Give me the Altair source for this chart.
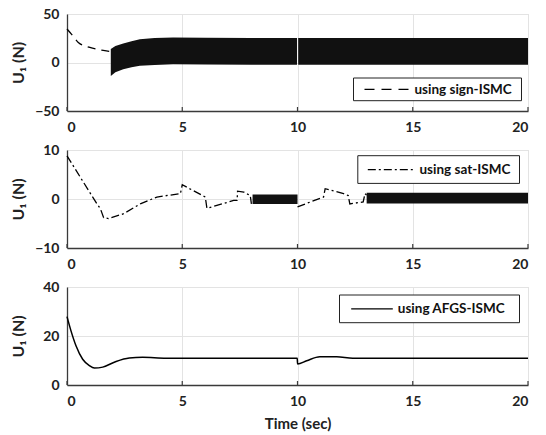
import altair as alt
import pandas as pd

FONT = "Lato"

# ---------------- data ----------------
x_ticks = [0, 5, 10, 15, 20]

# Panel 1: sign-ISMC (smooth part, then chattering envelope)
sign_t = [0.0, 0.2, 0.49, 0.99, 1.5, 1.86]
sign_u = [34.5, 29.0, 20.7, 15.5, 12.8, 11.4]
sign_band_t = [1.9, 2.1, 2.44, 2.8, 3.16, 3.8, 4.6, 6.0, 8.0, 9.98,
               10.03, 12.0, 15.0, 18.0, 20.0]
sign_band_lo = [-13.8, -10.0, -6.9, -4.8, -3.4, -2.5, -1.7, -2.0, -2.2, -2.4,
                -2.4, -2.3, -2.4, -2.3, -2.4]
sign_band_hi = [13.8, 17.0, 19.7, 22.0, 24.0, 25.2, 25.8, 25.5, 25.3, 25.2,
                25.2, 25.2, 25.3, 25.2, 25.2]
sign_band_seg = [0] * 10 + [1] * 5
sign_y_ticks = [-50, 0, 50]

# Panel 2: sat-ISMC
sat_t = [0.0, 1.3, 1.45, 1.59, 1.8, 2.46, 3.18, 3.9, 4.92, 5.0, 6.0, 6.07,
         6.5, 7.23, 7.38, 7.4, 7.67, 7.95, 8.0,
         10.0, 11.13, 11.2, 12.0, 12.2, 12.27, 12.85, 12.93, 13.0]
sat_u = [8.8, -1.0, -2.0, -3.8, -4.0, -3.0, -1.0, 0.4, 1.1, 2.9, 0.4, -1.9,
         -1.3, -0.3, -0.3, 1.6, 1.4, 0.7, -1.0,
         -1.6, 0.4, 2.1, 1.1, 0.7, -1.0, -0.6, 1.1, 0.8]
sat_seg = [0] * 19 + [1] * 9
sat_band_t = [8.05, 9.0, 10.0, 13.0, 16.5, 20.0]
sat_band_lo = [-1.0, -1.0, -1.0, -0.9, -0.9, -0.9]
sat_band_hi = [0.9, 0.9, 0.9, 1.3, 1.3, 1.3]
sat_band_seg = [0, 0, 0, 1, 1, 1]
sat_y_ticks = [-10, 0, 10]

# Panel 3: AFGS-ISMC
afgs_t = [0.0, 0.17, 0.39, 0.68, 0.97, 1.19, 1.55, 2.13, 2.7, 3.28, 4.3, 5.5,
          9.99, 10.0, 10.4, 10.97, 11.7, 12.4, 14.0, 20.0]
afgs_u = [27.9, 22.2, 16.0, 10.5, 7.9, 6.9, 7.3, 9.6, 11.0, 11.3, 10.9, 10.9,
          10.9, 8.6, 9.9, 11.5, 11.5, 10.9, 10.9, 10.9]
afgs_y_ticks = [0, 20, 40]

legend_labels = ["using sign-ISMC", "using sat-ISMC", "using AFGS-ISMC"]
y_title = "U\u2081 (N)"
x_title = "Time (sec)"

W = 461
GRID = "#e3e3e3"


def x_enc(show_title):
    ax = dict(
        values=x_ticks, ticks=False, grid=True, gridColor=GRID,
        domainColor="#3a3a3a", domainWidth=1.3,
        labelFont=FONT, labelFontSize=14, labelFontWeight="bold",
        labelColor="#222", labelPadding=9,
        titleFont=FONT, titleFontSize=15, titleFontWeight="bold",
        titleColor="#222", titlePadding=8,
    )
    ax["title"] = x_title if show_title else None
    return alt.X("t:Q", scale=alt.Scale(domain=[0, 20], nice=False, zero=False),
                 axis=alt.Axis(**ax))


def y_enc(field, dom, vals, H):
    return alt.Y(
        field,
        scale=alt.Scale(domain=dom, nice=False, zero=False),
        axis=alt.Axis(
            values=vals, ticks=False, grid=True, gridColor=GRID,
            domainColor="#3a3a3a", domainWidth=1.3,
            labelFont=FONT, labelFontSize=14, labelFontWeight="bold",
            labelColor="#222", labelPadding=8,
            title=y_title, titleFont=FONT, titleFontSize=16,
            titleFontWeight="bold", titleColor="#222",
            titleX=-44, titleY=H / 2, titleAlign="center",
            titleBaseline="alphabetic",
        ),
    )


def ticks_layer(H, show_title):
    d = pd.DataFrame({"t": x_ticks})
    return alt.Chart(d).mark_rule(color="#3a3a3a", strokeWidth=1.2).encode(
        x=x_enc(show_title), y=alt.value(H), y2=alt.value(H - 4)
    )


def legend_layer(label, dash, box, sample, text_x):
    x0, x1, y0, y1 = box
    ym = (y0 + y1) / 2
    d = pd.DataFrame({"label": [label]})
    rect = alt.Chart(d).mark_rect(fill="white", stroke="#222", strokeWidth=1).encode(
        x=alt.value(x0), x2=alt.value(x1), y=alt.value(y0), y2=alt.value(y1)
    )
    rule_kw = dict(color="black", strokeWidth=1.3)
    if dash:
        rule_kw["strokeDash"] = dash
    rule = alt.Chart(d).mark_rule(**rule_kw).encode(
        x=alt.value(sample[0]), x2=alt.value(sample[1]), y=alt.value(ym)
    )
    text = alt.Chart(d).mark_text(
        align="left", baseline="middle", font=FONT, fontSize=13.5,
        fontWeight="bold", color="#111"
    ).encode(x=alt.value(text_x), y=alt.value(ym + 0.5), text="label:N")
    return [rect, rule, text]


# ---------------- panel 1 ----------------
H1 = 97
d1 = pd.DataFrame({"t": sign_t, "u": sign_u})
b1 = pd.DataFrame({"t": sign_band_t, "lo": sign_band_lo, "hi": sign_band_hi,
                   "seg": sign_band_seg})
y1dom = [-50, 50]
p1_line = alt.Chart(d1).mark_line(
    color="black", strokeWidth=1.3, strokeDash=[8, 6], interpolate="monotone"
).encode(x=x_enc(False), y=y_enc("u:Q", y1dom, sign_y_ticks, H1))
p1_band = alt.Chart(b1).mark_area(color="#111", opacity=1).encode(
    x=x_enc(False), y=y_enc("lo:Q", y1dom, sign_y_ticks, H1), y2="hi:Q",
    detail="seg:N"
)
p1 = alt.layer(
    p1_line, p1_band, ticks_layer(H1, False),
    *legend_layer(legend_labels[0], [10, 7], (286.5, 454.5, 64, 86.7),
                  (297.5, 342.5), 347.5)
).properties(width=W, height=H1)

# ---------------- panel 2 ----------------
H2 = 98
d2 = pd.DataFrame({"t": sat_t, "u": sat_u, "seg": sat_seg})
b2 = pd.DataFrame({"t": sat_band_t, "lo": sat_band_lo, "hi": sat_band_hi,
                   "seg": sat_band_seg})
y2dom = [-10, 10]
p2_line = alt.Chart(d2).mark_line(
    color="black", strokeWidth=1.3, strokeDash=[8, 3, 2, 3]
).encode(x=x_enc(False), y=y_enc("u:Q", y2dom, sat_y_ticks, H2), detail="seg:N")
p2_band = alt.Chart(b2).mark_area(color="#111").encode(
    x=x_enc(False), y=y_enc("lo:Q", y2dom, sat_y_ticks, H2), y2="hi:Q",
    detail="seg:N"
)
p2 = alt.layer(
    p2_line, p2_band, ticks_layer(H2, False),
    *legend_layer(legend_labels[1], [8, 3, 2, 3], (290.8, 452.5, 5.7, 33.4),
                  (300.8, 345.8), 352.5)
).properties(width=W, height=H2)

# ---------------- panel 3 ----------------
H3 = 98
d3 = pd.DataFrame({"t": afgs_t, "u": afgs_u})
y3dom = [0, 40]
p3_line = alt.Chart(d3).mark_line(
    color="black", strokeWidth=1.5, interpolate="monotone"
).encode(x=x_enc(True), y=y_enc("u:Q", y3dom, afgs_y_ticks, H3))
p3 = alt.layer(
    p3_line, ticks_layer(H3, True),
    *legend_layer(legend_labels[2], None, (272.5, 452.5, 8, 35.7),
                  (284.2, 325.8), 330.8)
).properties(width=W, height=H3)

chart = alt.vconcat(p1, p2, p3, spacing=39, bounds="flush").properties(
    padding={"left": 9, "top": 6, "right": 10, "bottom": 4}
).configure_view(stroke="#d6d6d6", strokeWidth=1).configure(background="white")

chart.save("out.html", embed_options={"renderer": "svg", "actions": False})
